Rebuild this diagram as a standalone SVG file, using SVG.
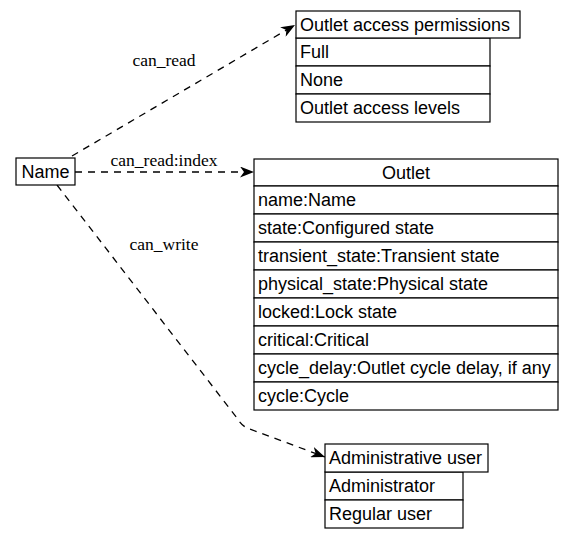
<svg xmlns="http://www.w3.org/2000/svg" width="575" height="539" viewBox="0 0 575 539">
<style>
  .box { fill: #fff; stroke: #000; stroke-width: 1.2; }
  .t { font-family: "Liberation Sans", Arial, sans-serif; font-size: 18px; fill: #000; }
  .lbl { font-family: "Liberation Serif", "Times New Roman", serif; font-size: 17.5px; fill: #000; text-anchor: middle; }
  .edge { fill: none; stroke: #000; stroke-width: 1.3; stroke-dasharray: 7 6; }
</style>
<defs>
  <marker id="vee" markerUnits="userSpaceOnUse" markerWidth="14" markerHeight="11" refX="14" refY="5.5" orient="auto">
    <path d="M0,0 L14,5.5 L0,11 L4,5.5 z" fill="#000"/>
  </marker>
</defs>
<rect width="575" height="539" fill="#fff"/>

<g id="connectors">
  <path class="edge" d="M72,156 L295,25" marker-end="url(#vee)"/>
  <text class="lbl" x="164" y="66">can_read</text>
  <path class="edge" d="M75,172 L254,172" marker-end="url(#vee)"/>
  <text class="lbl" x="164" y="166">can_read:index</text>
  <path class="edge" d="M57,185 L237,418 Q241,425 247,428 L325,457" marker-end="url(#vee)"/>
  <text class="lbl" x="164" y="250">can_write</text>
</g>

<g id="name">
  <rect class="box" x="16" y="158" width="59" height="27"/>
  <text class="t" x="45.5" y="177.5" text-anchor="middle">Name</text>
</g>

<g id="outlet-access-permissions">
  <rect class="box" x="296" y="38" width="194" height="28"/>
  <rect class="box" x="296" y="66" width="194" height="28"/>
  <rect class="box" x="296" y="94" width="194" height="28"/>
  <rect class="box" x="296" y="11" width="224" height="27"/>
  <text class="t" x="300" y="30.5">Outlet access permissions</text>
  <text class="t" x="300" y="57.5">Full</text>
  <text class="t" x="300" y="85.5">None</text>
  <text class="t" x="300" y="113.5">Outlet access levels</text>
</g>

<g id="outlet">
  <rect class="box" x="254" y="159" width="304" height="27"/>
  <rect class="box" x="254" y="186" width="304" height="28"/>
  <rect class="box" x="254" y="214" width="304" height="28"/>
  <rect class="box" x="254" y="242" width="304" height="28"/>
  <rect class="box" x="254" y="270" width="304" height="28"/>
  <rect class="box" x="254" y="298" width="304" height="28"/>
  <rect class="box" x="254" y="326" width="304" height="28"/>
  <rect class="box" x="254" y="354" width="304" height="28"/>
  <rect class="box" x="254" y="382" width="304" height="28"/>
  <text class="t" x="406" y="178.5" text-anchor="middle">Outlet</text>
  <text class="t" x="258" y="205.5">name:Name</text>
  <text class="t" x="258" y="233.5">state:Configured state</text>
  <text class="t" x="258" y="261.5">transient_state:Transient state</text>
  <text class="t" x="258" y="289.5">physical_state:Physical state</text>
  <text class="t" x="258" y="317.5">locked:Lock state</text>
  <text class="t" x="258" y="345.5">critical:Critical</text>
  <text class="t" x="258" y="373.5">cycle_delay:Outlet cycle delay, if any</text>
  <text class="t" x="258" y="401.5">cycle:Cycle</text>
</g>

<g id="administrative-user">
  <rect class="box" x="325" y="472" width="138" height="28"/>
  <rect class="box" x="325" y="500" width="138" height="28"/>
  <rect class="box" x="325" y="444" width="163" height="28"/>
  <text class="t" x="329" y="463.5">Administrative user</text>
  <text class="t" x="329" y="491.5">Administrator</text>
  <text class="t" x="329" y="519.5">Regular user</text>
</g>
</svg>
